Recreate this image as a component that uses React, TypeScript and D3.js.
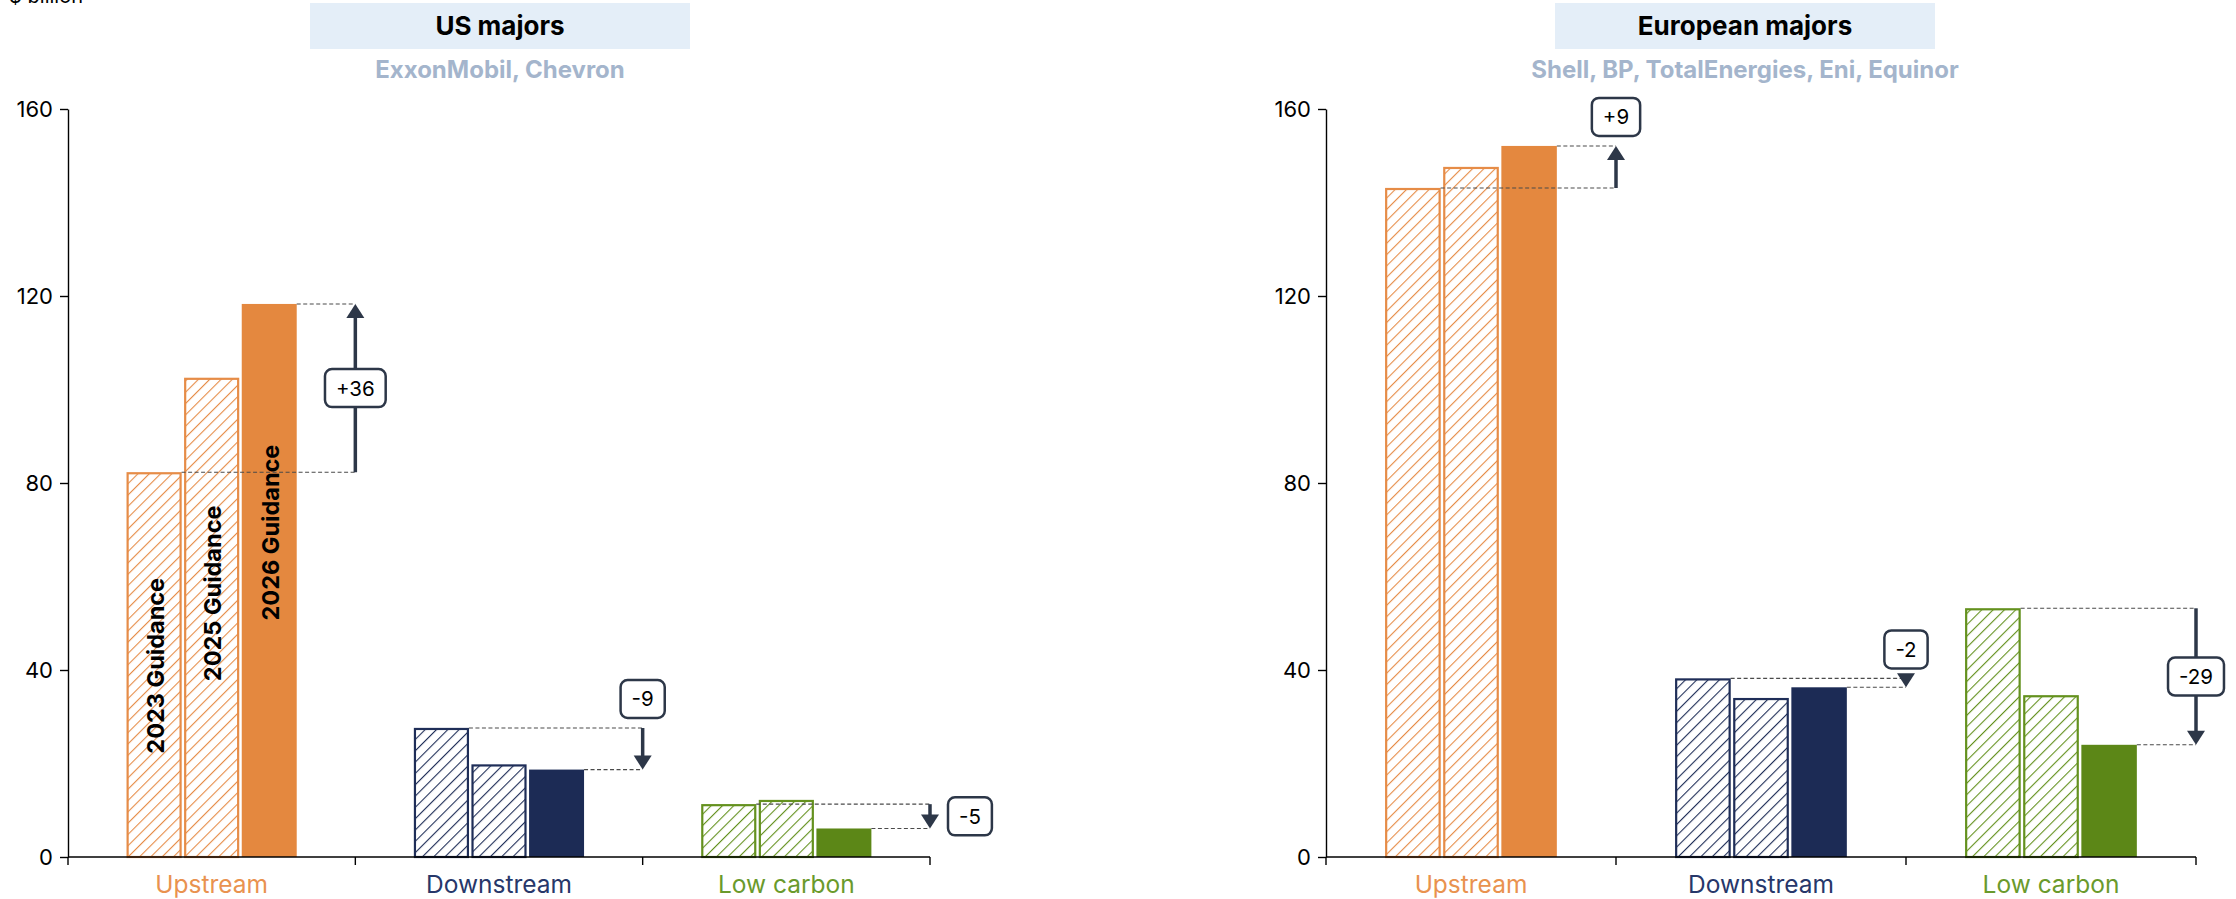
import React, { useEffect, useRef } from "react";
import * as d3 from "d3";

// Capital spending guidance by segment, $ billion
const categories = ["Upstream", "Downstream", "Low carbon"];
const seriesNames = ["2023 Guidance", "2025 Guidance", "2026 Guidance"];
const yTicks = [0, 40, 80, 120, 160];

const us2023 = [82.3, 27.6, 11.3];
const us2025 = [102.5, 19.8, 12.2];
const us2026 = [118.3, 18.7, 6.1];

const eu2023 = [143.1, 38.2, 53.2];
const eu2025 = [147.6, 34.0, 34.6];
const eu2026 = [152.1, 36.3, 24.0];

// where each change badge sits relative to its arrow
const usBadgePlacement = ["mid", "above", "right"];
const euBadgePlacement = ["above", "above", "mid"];

// value-space centre of the rotated series names drawn inside the US upstream bars
const seriesNameAt = [40.9, 56.4, 69.4];

const FONT = "Inter, 'Liberation Sans', Arial, sans-serif";
const W = 2236;
const H = 899;

const segmentColors = [
  { solid: "#E4883F", hatch: "#E68C47", label: "#E9924F", id: "orange" },
  { solid: "#1C2B55", hatch: "#1F2E58", label: "#27376A", id: "navy" },
  { solid: "#5C8717", hatch: "#64911E", label: "#6A9A2C", id: "green" },
];
const ARROW = "#2D3748";

type Panel = {
  title: string;
  subtitle: string;
  left: number;
  right: number;
  boxLeft: number;
  boxRight: number;
  series: number[][];
  placement: string[];
  seriesLabels: boolean;
};

const panels: Panel[] = [
  {
    title: "US majors",
    subtitle: "ExxonMobil, Chevron",
    left: 68,
    right: 930,
    boxLeft: 310,
    boxRight: 690,
    series: [us2023, us2025, us2026],
    placement: usBadgePlacement,
    seriesLabels: true,
  },
  {
    title: "European majors",
    subtitle: "Shell, BP, TotalEnergies, Eni, Equinor",
    left: 1326,
    right: 2196,
    boxLeft: 1555,
    boxRight: 1935,
    series: [eu2023, eu2025, eu2026],
    placement: euBadgePlacement,
    seriesLabels: false,
  },
];

function textWidth(text: string, font: string): number {
  const canvas = document.createElement("canvas");
  const ctx = canvas.getContext("2d");
  if (!ctx) return text.length * 11;
  ctx.font = font;
  return ctx.measureText(text).width;
}

export default function App() {
  const ref = useRef<SVGSVGElement | null>(null);

  useEffect(() => {
    const svg = d3.select(ref.current);
    svg.selectAll("*").remove();

    const defs = svg.append("defs");
    segmentColors.forEach((c) => {
      const p = defs
        .append("pattern")
        .attr("id", `hatch-${c.id}`)
        .attr("patternUnits", "userSpaceOnUse")
        .attr("width", 8)
        .attr("height", 8)
        .attr("patternTransform", "rotate(45)");
      p.append("rect").attr("width", 8).attr("height", 8).attr("fill", "#fff");
      p.append("line")
        .attr("x1", 0)
        .attr("y1", 0)
        .attr("x2", 0)
        .attr("y2", 8)
        .attr("stroke", c.hatch)
        .attr("stroke-width", 2.2);
    });

    // unit label, mostly above the top edge
    svg
      .append("text")
      .attr("x", 83)
      .attr("y", 3)
      .attr("text-anchor", "end")
      .attr("font-family", FONT)
      .attr("font-size", 20)
      .attr("fill", "#000")
      .text("$ billion");

    const y = d3.scaleLinear().domain([0, 160]).range([857, 109]);

    panels.forEach((panel) => {
      const g = svg.append("g");

      // heading
      g.append("rect")
        .attr("x", panel.boxLeft)
        .attr("y", 3)
        .attr("width", panel.boxRight - panel.boxLeft)
        .attr("height", 46)
        .attr("fill", "#E4EEF8");
      const cx = (panel.boxLeft + panel.boxRight) / 2;
      g.append("text")
        .attr("x", cx)
        .attr("y", 35)
        .attr("text-anchor", "middle")
        .attr("font-family", FONT)
        .attr("font-weight", 700)
        .attr("font-size", 26)
        .attr("fill", "#000")
        .text(panel.title);
      g.append("text")
        .attr("x", cx)
        .attr("y", 78)
        .attr("text-anchor", "middle")
        .attr("font-family", FONT)
        .attr("font-weight", 700)
        .attr("font-size", 24)
        .attr("fill", "#A4B5CC")
        .text(panel.subtitle);

      const x0 = d3.scaleBand<string>().domain(categories).range([panel.left, panel.right]);
      const groupW = x0.bandwidth() * 0.592;
      const x1 = d3
        .scaleBand<string>()
        .domain(seriesNames)
        .range([0, groupW])
        .paddingInner(0.045);

      // bars
      categories.forEach((cat, ci) => {
        const col = segmentColors[ci];
        const gx = (x0(cat) as number) + x0.bandwidth() / 2 - groupW / 2;
        seriesNames.forEach((s, si) => {
          const v = panel.series[si][ci];
          const bx = gx + (x1(s) as number);
          const bw = x1.bandwidth();
          if (si < 2) {
            g.append("rect")
              .attr("x", bx + 1)
              .attr("y", y(v) + 1)
              .attr("width", bw - 2)
              .attr("height", y(0) - y(v) - 1)
              .attr("fill", `url(#hatch-${col.id})`)
              .attr("stroke", col.hatch)
              .attr("stroke-width", 2.2);
          } else {
            g.append("rect")
              .attr("x", bx)
              .attr("y", y(v))
              .attr("width", bw)
              .attr("height", y(0) - y(v))
              .attr("fill", col.solid);
          }
          if (panel.seriesLabels && ci === 0) {
            const tx = bx + bw / 2 + 1;
            const ty = y(seriesNameAt[si]);
            g.append("text")
              .attr("transform", `translate(${tx},${ty}) rotate(-90)`)
              .attr("text-anchor", "middle")
              .attr("dominant-baseline", "central")
              .attr("font-family", FONT)
              .attr("font-weight", 700)
              .attr("font-size", 23.5)
              .attr("fill", "#000")
              .text(s);
          }
        });
      });

      // axes
      const yAxis = d3
        .axisLeft(y)
        .tickValues(yTicks)
        .tickSize(8)
        .tickSizeOuter(0)
        .tickPadding(7)
        .tickFormat(d3.format("d"));
      const ya = g
        .append("g")
        .attr("transform", `translate(${panel.left},0)`)
        .call(yAxis);
      ya.selectAll("path,line").attr("stroke", "#000").attr("stroke-width", 1.4);
      ya.selectAll("text")
        .attr("font-family", FONT)
        .attr("font-size", 22)
        .attr("fill", "#000");

      const base = y(0);
      g.append("line")
        .attr("x1", panel.left)
        .attr("x2", panel.right)
        .attr("y1", base)
        .attr("y2", base)
        .attr("stroke", "#000")
        .attr("stroke-width", 1.4);
      const bounds = [...categories.map((c) => x0(c) as number), panel.right];
      bounds.forEach((bx) => {
        g.append("line")
          .attr("x1", bx)
          .attr("x2", bx)
          .attr("y1", base)
          .attr("y2", base + 8)
          .attr("stroke", "#000")
          .attr("stroke-width", 1.4);
      });
      categories.forEach((cat, ci) => {
        g.append("text")
          .attr("x", (x0(cat) as number) + x0.bandwidth() / 2)
          .attr("y", 893)
          .attr("text-anchor", "middle")
          .attr("font-family", FONT)
          .attr("font-size", 24.5)
          .attr("fill", segmentColors[ci].label)
          .text(cat);
      });

      // change annotations: 2023 guidance -> 2026 guidance
      categories.forEach((cat, ci) => {
        const gx = (x0(cat) as number) + x0.bandwidth() / 2 - groupW / 2;
        const first = panel.series[0][ci];
        const last = panel.series[2][ci];
        const xa = (x0(cat) as number) + x0.bandwidth();
        const yStart = y(first);
        const yEnd = y(last);
        const firstRight = gx + (x1(seriesNames[0]) as number) + x1.bandwidth();
        const lastRight = gx + (x1(seriesNames[2]) as number) + x1.bandwidth();

        [
          [firstRight, yStart],
          [lastRight, yEnd],
        ].forEach(([sx, sy]) => {
          g.append("line")
            .attr("x1", sx)
            .attr("x2", xa)
            .attr("y1", sy)
            .attr("y2", sy)
            .attr("stroke", "#4a4a4a")
            .attr("stroke-width", 1.1)
            .attr("stroke-dasharray", "4,2.5");
        });

        const dir = yEnd > yStart ? 1 : -1;
        const headH = 14;
        const headW = 9;
        g.append("line")
          .attr("x1", xa)
          .attr("x2", xa)
          .attr("y1", yStart)
          .attr("y2", yEnd - dir * (headH - 1))
          .attr("stroke", ARROW)
          .attr("stroke-width", 3.5);
        g.append("path")
          .attr(
            "d",
            `M${xa},${yEnd} L${xa - headW},${yEnd - dir * headH} L${xa + headW},${yEnd - dir * headH} Z`
          )
          .attr("fill", ARROW);

        const delta = Math.round(last - first);
        const label = (delta > 0 ? "+" : "") + String(delta);
        const fontSize = 20.5;
        const tw = textWidth(label, `${fontSize}px ${FONT}`);
        const bw = tw + 22;
        const bh = 38;
        let bcx = xa;
        let bcy = (yStart + yEnd) / 2;
        const place = panel.placement[ci];
        if (place === "above") {
          bcy = Math.min(yStart, yEnd) - 10 - bh / 2;
        } else if (place === "right") {
          bcx = xa + 18 + bw / 2;
        }
        g.append("rect")
          .attr("x", bcx - bw / 2)
          .attr("y", bcy - bh / 2)
          .attr("width", bw)
          .attr("height", bh)
          .attr("rx", 7)
          .attr("fill", "#fff")
          .attr("stroke", ARROW)
          .attr("stroke-width", 2.5);
        g.append("text")
          .attr("x", bcx)
          .attr("y", bcy)
          .attr("text-anchor", "middle")
          .attr("dominant-baseline", "central")
          .attr("font-family", FONT)
          .attr("font-size", fontSize)
          .attr("fill", "#000")
          .text(label);
      });
    });
  }, []);

  return (
    <svg
      ref={ref}
      width={W}
      height={H}
      viewBox={`0 0 ${W} ${H}`}
      style={{ position: "absolute", left: 0, top: 0, display: "block", background: "#fff" }}
    />
  );
}
